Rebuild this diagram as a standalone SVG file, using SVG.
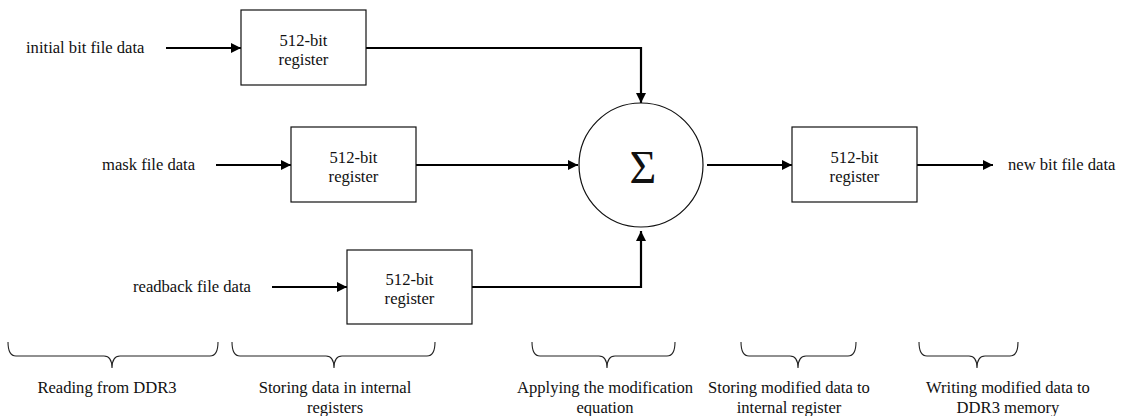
<svg xmlns="http://www.w3.org/2000/svg" width="1148" height="416" viewBox="0 0 1148 416">
  <style>
    text { font-family: "Liberation Serif", "DejaVu Serif", serif; font-size: 16.6px; fill: #111; }
    .mid { text-anchor: middle; }
    .box { fill: #fff; stroke: #111; stroke-width: 1.2; }
    .wire { fill: none; stroke: #000; stroke-width: 2.2; }
    .brace { fill: none; stroke: #222; stroke-width: 1.1; }
  </style>
  <defs>
    <marker id="arrow" markerWidth="11" markerHeight="11" refX="10" refY="5" orient="auto" markerUnits="userSpaceOnUse">
      <path d="M0,0 L10,5 L0,10 Z" fill="#000"/>
    </marker>
  </defs>
  <rect width="1148" height="416" fill="#fff"/>

  <!-- input / output labels -->
  <text x="26" y="53">initial bit file data</text>
  <text x="102" y="170">mask file data</text>
  <text x="133" y="292">readback file data</text>
  <text x="1008" y="170">new bit file data</text>

  <!-- connectors -->
  <g id="connectors">
    <path class="wire" d="M166,48 H241" marker-end="url(#arrow)"/>
    <path class="wire" d="M216,165 H291" marker-end="url(#arrow)"/>
    <path class="wire" d="M272,287 H347" marker-end="url(#arrow)"/>
    <path class="wire" d="M366,48 H641 V103" marker-end="url(#arrow)"/>
    <path class="wire" d="M416,165 H578" marker-end="url(#arrow)"/>
    <path class="wire" d="M472,287 H641 V231" marker-end="url(#arrow)"/>
    <path class="wire" d="M707,165 H792" marker-end="url(#arrow)"/>
    <path class="wire" d="M917,165 H993" marker-end="url(#arrow)"/>
  </g>

  <!-- registers -->
  <g id="reg-initial">
    <rect class="box" x="241" y="10" width="125" height="75"/>
    <text class="mid" x="303.5" y="46">512-bit</text>
    <text class="mid" x="303.5" y="65">register</text>
  </g>
  <g id="reg-mask">
    <rect class="box" x="291" y="127" width="125" height="75"/>
    <text class="mid" x="353.5" y="163">512-bit</text>
    <text class="mid" x="353.5" y="182">register</text>
  </g>
  <g id="reg-readback">
    <rect class="box" x="347" y="250" width="125" height="74"/>
    <text class="mid" x="409.5" y="285">512-bit</text>
    <text class="mid" x="409.5" y="304">register</text>
  </g>
  <g id="reg-out">
    <rect class="box" x="792" y="127" width="125" height="75"/>
    <text class="mid" x="854.5" y="163">512-bit</text>
    <text class="mid" x="854.5" y="182">register</text>
  </g>

  <!-- summation node -->
  <g id="sum">
    <circle cx="641" cy="165" r="62" fill="#fff" stroke="#111" stroke-width="1.2"/>
    <text class="mid" x="643" y="183" style="font-size:46px">Σ</text>
  </g>

  <!-- stage braces -->
  <g id="stages">
    <path class="brace" d="M8,342 Q8,356 16,356 H104 Q112,356 112,368 Q112,356 120,356 H210 Q218,356 218,342"/>
    <path class="brace" d="M232,342 Q232,356 240,356 H326 Q334,356 334,368 Q334,356 342,356 H427 Q435,356 435,342"/>
    <path class="brace" d="M532,342 Q532,356 540,356 H599 Q607,356 607,368 Q607,356 615,356 H667 Q675,356 675,342"/>
    <path class="brace" d="M741,342 Q741,356 749,356 H790 Q798,356 798,368 Q798,356 806,356 H848 Q856,356 856,342"/>
    <path class="brace" d="M919,342 Q919,356 927,356 H969 Q977,356 977,368 Q977,356 985,356 H1010 Q1018,356 1018,342"/>

    <text class="mid" x="107" y="393">Reading from DDR3</text>
    <text class="mid" x="335" y="393">Storing data in internal</text>
    <text class="mid" x="335" y="413">registers</text>
    <text class="mid" x="605" y="393">Applying the modification</text>
    <text class="mid" x="605" y="413">equation</text>
    <text class="mid" x="789" y="393">Storing modified data to</text>
    <text class="mid" x="789" y="413">internal register</text>
    <text class="mid" x="1008" y="393">Writing modified data to</text>
    <text class="mid" x="1008" y="413">DDR3 memory</text>
  </g>
</svg>
